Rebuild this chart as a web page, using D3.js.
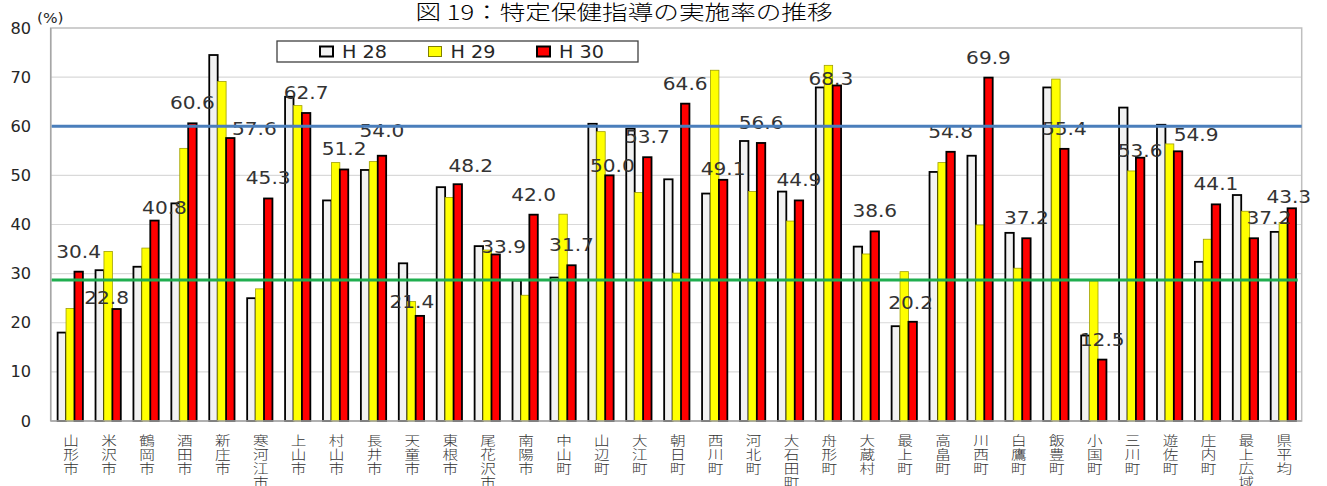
<!DOCTYPE html>
<html><head><meta charset="utf-8">
<script src="https://cdnjs.cloudflare.com/ajax/libs/d3/7.8.5/d3.min.js"></script>
<style>
html,body{margin:0;padding:0;background:#fff;}
svg{display:block;}
</style></head>
<body>
<svg id="chart" width="1327" height="486"></svg>
<script>
const categories = ["山形市","米沢市","鶴岡市","酒田市","新庄市","寒河江市","上山市","村山市","長井市","天童市","東根市","尾花沢市","南陽市","中山町","山辺町","大江町","朝日町","西川町","河北町","大石田町","舟形町","大蔵村","最上町","高畠町","川西町","白鷹町","飯豊町","小国町","三川町","遊佐町","庄内町","最上広域","県平均"];
const seriesNames = ["Ｈ28","Ｈ29","Ｈ30"];
const h28 = [18.0,30.7,31.4,44.3,74.5,25.0,66.0,44.9,51.1,32.1,47.6,35.6,28.6,29.2,60.5,59.5,49.2,46.3,57.0,46.7,67.9,35.5,19.3,50.7,54.0,38.3,67.9,17.4,63.8,60.3,32.4,46.0,38.5];
const h29 = [22.9,34.5,35.2,55.5,69.1,26.9,64.2,52.6,52.8,24.3,45.5,34.8,25.6,42.1,58.9,46.5,30.1,71.4,46.7,40.7,72.4,34.0,30.4,52.6,39.9,31.1,69.6,28.5,50.9,56.4,37.0,42.7,40.4];
const h30 = [30.4,22.8,40.8,60.6,57.6,45.3,62.7,51.2,54.0,21.4,48.2,33.9,42.0,31.7,50.0,53.7,64.6,49.1,56.6,44.9,68.3,38.6,20.2,54.8,69.9,37.2,55.4,12.5,53.6,54.9,44.1,37.2,43.3];
const yTicks = [0,10,20,30,40,50,60,70,80];
const refValues = [60, 28.7];
const title = "図 19：特定保健指導の実施率の推移";
const unitLabel = "(%)";

// manual label nudges (px) for H30 data labels, like the hand-placed labels in the source
const labelNudge = {
  "米沢市":{dx:-10,gap:5}, "鶴岡市":{dx:10,gap:7}, "新庄市":{dx:24,gap:3}, "長井市":{dx:0,gap:19},
  "天童市":{dx:-8,gap:8}, "東根市":{dx:13,gap:12}, "尾花沢市":{dx:8,gap:1}, "山辺町":{dx:3,gap:3},
  "西川町":{dx:0,gap:5}, "舟形町":{dx:-6,gap:0}, "最上町":{dx:-2,gap:13}, "三川町":{dx:0,gap:1},
  "遊佐町":{dx:18,gap:10}, "最上広域":{dx:15,gap:14}, "県平均":{dx:-3,gap:5}
};

const svg = d3.select("#chart");
const plot = {left:50.7, right:1301.7, top:28, bottom:421};

const x = d3.scaleBand().domain(categories).range([plot.left, plot.right]).paddingInner(0).paddingOuter(0);
const bw = x.bandwidth() / 4.5;
const xs = d3.scaleBand().domain(seriesNames).range([0, 3*bw]);
const groupOffset = (x.bandwidth() - 3*bw) / 2 + 0.6;
const y = d3.scaleLinear().domain([0, 80]).range([plot.bottom, plot.top]);

const numFont = "'DejaVu Sans', Verdana, sans-serif";
const cjkFont = "'Noto Sans CJK JP', 'Noto Sans CJK SC', sans-serif";

// gridlines
svg.append("g").selectAll("line").data(yTicks.filter(t => t > 0 && t < 80)).join("line")
  .attr("x1", plot.left).attr("x2", plot.right)
  .attr("y1", d => y(d)).attr("y2", d => y(d))
  .attr("stroke", "#d9d9d9").attr("stroke-width", 1.2);

// plot border (top/right) and axes
svg.append("rect").attr("x", plot.left).attr("y", plot.top)
  .attr("width", plot.right - plot.left).attr("height", plot.bottom - plot.top)
  .attr("fill", "none").attr("stroke", "#bfbfbf").attr("stroke-width", 1.5);
svg.append("line").attr("x1", plot.left).attr("x2", plot.left).attr("y1", plot.top).attr("y2", plot.bottom)
  .attr("stroke", "#a6a6a6").attr("stroke-width", 1.5);

// y tick labels
svg.append("g").selectAll("text").data(yTicks).join("text")
  .attr("transform", d => `translate(31,${y(d) + 5.5}) scale(1.08,1)`)
  .attr("text-anchor", "end")
  .attr("font-family", numFont).attr("font-size", 15).attr("fill", "#262626")
  .text(d => d);

svg.append("text").attr("transform", "translate(37,23) scale(1.1,1)")
  .attr("font-family", numFont).attr("font-size", 14).attr("fill", "#262626")
  .text(unitLabel);

// bars
const seriesData = [h28, h29, h30];
const fills = ["#f2f2f2", "#ffff00", "#ff0000"];
const strokes = ["#000000", "#a0a000", "#000000"];
const strokeW = [1.8, 0.8, 1.8];
seriesNames.forEach((s, si) => {
  svg.append("g").selectAll("rect").data(categories.map((c, i) => ({c, v: seriesData[si][i]}))).join("rect")
    .attr("x", d => x(d.c) + groupOffset + xs(s))
    .attr("y", d => y(d.v))
    .attr("width", bw)
    .attr("height", d => y(0) - y(d.v))
    .attr("fill", fills[si]).attr("stroke", strokes[si]).attr("stroke-width", strokeW[si]);
});
// bottom axis line
svg.append("line").attr("x1", plot.left).attr("x2", plot.right).attr("y1", plot.bottom).attr("y2", plot.bottom)
  .attr("stroke", "#a6a6a6").attr("stroke-width", 1.5);

// data labels (H30)
svg.append("g").selectAll("text").data(categories.map((c, i) => ({c, v: h30[i]}))).join("text")
  .attr("transform", d => {
    const n = labelNudge[d.c] || {dx:0, gap:14};
    const cx = x(d.c) + groupOffset + xs("Ｈ30") + bw/2 + n.dx;
    return `translate(${cx},${y(d.v) - n.gap}) scale(1.15,1)`;
  })
  .attr("text-anchor", "middle")
  .attr("font-family", numFont).attr("font-size", 17.5).attr("fill", "#333333")
  .text(d => d.v.toFixed(1));

// reference lines
const refColors = ["#4a7ebb", "#1fae4f"];
svg.append("g").selectAll("line").data(refValues).join("line")
  .attr("x1", plot.left + 1).attr("x2", (d, i) => i === 0 ? plot.right : plot.right - 4)
  .attr("y1", d => y(d)).attr("y2", d => y(d))
  .attr("stroke", (d, i) => refColors[i]).attr("stroke-width", 3);

// category labels (vertical stacked)
const catG = svg.append("g").selectAll("g").data(categories).join("g")
  .attr("transform", d => `translate(${x(d) + x.bandwidth()/2 + 1.5},0) scale(1.2,1)`);
catG.each(function(d) {
  const t = d3.select(this).append("text")
    .attr("text-anchor", "middle")
    .attr("font-family", cjkFont).attr("font-size", 13).attr("font-weight", 300).attr("fill", "#333333");
  Array.from(d).forEach((ch, k) => {
    t.append("tspan").attr("x", 0).attr("y", 445 + k * 14).text(ch);
  });
});

// legend
const lg = svg.append("g");
lg.append("rect").attr("x", 277).attr("y", 41).attr("width", 361).attr("height", 21)
  .attr("fill", "#fff").attr("stroke", "#404040").attr("stroke-width", 1.3);
seriesNames.forEach((s, si) => {
  const lx = 320 + si * 108.5;
  lg.append("rect").attr("x", lx).attr("y", 46.5).attr("width", 13).attr("height", 10)
    .attr("fill", fills[si]).attr("stroke", si === 1 ? "#808000" : "#000").attr("stroke-width", si === 1 ? 1 : 2);
  lg.append("text").attr("transform", `translate(${lx + 22},57.5) scale(1.13,1)`)
    .attr("font-family", numFont).attr("font-size", 17).attr("fill", "#262626")
    .text(s.replace("Ｈ", "H "));
});

// title
svg.append("text").attr("transform", "translate(624,20) scale(1.25,1)")
  .attr("text-anchor", "middle")
  .attr("font-family", cjkFont).attr("font-size", 20.5).attr("font-weight", 300).attr("fill", "#000")
  .text(title);
</script>
</body></html>
